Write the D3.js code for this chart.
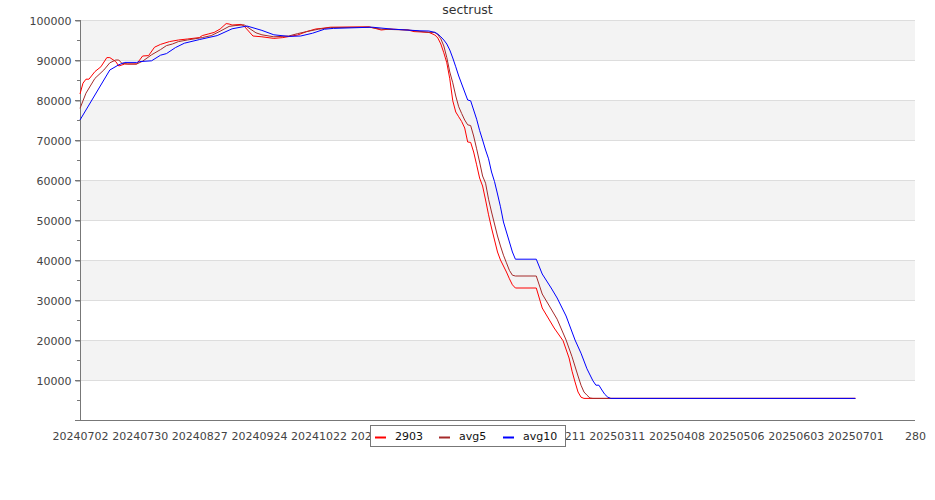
<!DOCTYPE html>
<html>
<head>
<meta charset="utf-8">
<script src="https://cdn.jsdelivr.net/npm/d3@7"></script>
<style>
  html, body { margin: 0; padding: 0; background: #fff; }
  svg { display: block; font-family: "DejaVu Sans", sans-serif; }
</style>
</head>
<body>
<svg id="chart" width="935" height="500"></svg>
<script>
// ---- data ----
const title = "sectrust";
const xTickIndex = [0, 20, 40, 60, 80, 100, 120, 140, 160, 180, 200, 220, 240, 260, 280];
const xTickLabels = ["20240702","20240730","20240827","20240924","20241022","20241119","20241217",
  "20250114","20250211","20250311","20250408","20250506","20250603","20250701","280"];
const yTicks = [10000, 20000, 30000, 40000, 50000, 60000, 70000, 80000, 90000, 100000];
const seriesNames = ["2903", "avg5", "avg10"];
const seriesColors = ["#ff0000", "#a52a2a", "#0000ff"];

// [trading-day index, value]
const s2903 = [[0,81500],[1,84200],[2,85200],[3,85200],[5,87100],[7,88300],[9,90600],[10,90600],
  [12,89600],[13,88500],[15,89000],[19,89000],[21,91000],[23,91100],[25,93200],[27,93900],
  [30,94600],[33,95000],[36,95250],[40,95600],[41,96100],[43,96500],[45,96900],[47,97750],
  [49,99100],[50,99000],[51,98750],[54,98900],[55,98500],[58,96000],[61,95800],[65,95400],
  [68,95600],[73,96250],[76,97100],[79,97750],[81,97900],[84,98200],[97,98300],[101,97500],
  [104,97750],[110,97500],[112,97100],[117,96900],[119,96250],[120,95500],[121,94000],
  [122,91800],[123,89300],[124,85300],[125,79800],[126,77000],[127,75800],[128,74600],
  [129,73000],[130,69500],[131,69400],[132,67000],[133,63800],[134,60500],[135,58500],
  [136,55000],[137,51300],[138,48000],[139,45000],[140,42000],[141,40000],[142,38500],
  [143,37000],[144,35300],[145,33800],[146,33000],[153,33000],[155,28000],[159,23000],
  [162,19800],[164,15500],[165,12200],[166,9500],[167,7000],[168,5700],[169,5400],[260,5400]];

const sAvg5 = [[0,77900],[2,81700],[5,85400],[8,87500],[10,89300],[12,90000],[13,90000],
  [14,89200],[16,89000],[19,89000],[21,89700],[24,91300],[27,92600],[29,93600],[31,94000],
  [33,94600],[36,95000],[41,95600],[44,96100],[47,97200],[50,98400],[52,98600],[55,98800],
  [57,97800],[59,96800],[61,96300],[65,95800],[70,96000],[73,96600],[76,97100],[80,97700],
  [84,98100],[97,98200],[101,97700],[110,97500],[117,96900],[119,96900],[120,96300],
  [121,95300],[122,93500],[123,90600],[124,87000],[125,84300],[126,81000],[127,78300],
  [128,76600],[129,75000],[130,73800],[131,73600],[132,71000],[133,67800],[134,64500],
  [135,61000],[136,59200],[137,55200],[138,52000],[139,49000],[140,46000],[141,43500],
  [142,41200],[143,39300],[144,37400],[145,36200],[146,36000],[153,36000],[155,31500],
  [157,29000],[160,25200],[163,20000],[165,15800],[167,11000],[168,8700],[169,7000],
  [170,6200],[171,5500],[172,5400],[260,5400]];

const sAvg10 = [[0,75000],[10,87500],[13,88800],[15,89400],[19,89400],[20,89600],[24,89800],
  [27,91200],[29,91600],[32,93100],[35,94200],[40,95100],[46,96100],[51,97800],[56,98500],
  [61,97400],[65,96300],[70,95900],[74,96000],[78,96700],[82,97700],[85,97900],[98,98200],
  [105,97700],[114,97300],[117,97250],[119,96900],[120,96500],[121,95800],[122,95000],
  [123,94000],[124,92500],[125,90500],[126,88300],[127,86000],[128,84000],[129,82000],
  [130,80000],[131,79800],[132,77500],[133,75200],[134,72400],[135,70000],[136,67500],
  [137,65300],[138,62000],[139,59600],[140,56500],[141,53300],[142,49500],[143,47000],
  [144,44500],[145,42000],[146,40200],[153,40200],[155,36500],[158,33000],[160,30500],
  [163,26000],[166,20000],[168,16700],[170,12800],[172,9800],[173,8700],[174,8700],
  [175,7500],[176,6400],[177,5700],[178,5400],[260,5400]];

const allSeries = [s2903, sAvg5, sAvg10];

// ---- chart ----
const svg = d3.select("#chart");
const mLeft = 80, mRight = 915, mTop = 20, mBottom = 420;
const x = d3.scaleLinear().domain([0, 280]).range([mLeft, mRight]);
const y = d3.scaleLinear().domain([0, 100000]).range([mBottom, mTop]);

// bands
const bandEdges = d3.range(0, 100001, 10000);
for (let i = 0; i < bandEdges.length - 1; i++) {
  if (i % 2 === 1) {
    svg.append("rect")
      .attr("x", mLeft).attr("width", mRight - mLeft)
      .attr("y", y(bandEdges[i + 1])).attr("height", y(bandEdges[i]) - y(bandEdges[i + 1]))
      .attr("fill", "#f3f3f3");
  }
}
// grid
svg.append("g").selectAll("line").data(yTicks).join("line")
  .attr("x1", mLeft).attr("x2", mRight)
  .attr("y1", d => Math.round(y(d)) + 0.5).attr("y2", d => Math.round(y(d)) + 0.5)
  .attr("stroke", "#dddddd").attr("stroke-width", 1);

// y axis
const yAxis = d3.axisLeft(y).tickValues(yTicks).tickSize(5).tickPadding(4)
  .tickFormat(d3.format("d"));
const gy = svg.append("g").attr("transform", `translate(${mLeft + 0.5},0.5)`).call(yAxis);
gy.select(".domain").remove();
gy.selectAll(".tick line").attr("stroke", "#777");
gy.selectAll(".tick text").attr("fill", "#444").attr("font-size", 11)
  .attr("font-family", "DejaVu Sans, sans-serif");
// minor ticks
const minor = d3.range(0, 100001, 5000);
svg.append("g").selectAll("line").data(minor).join("line")
  .attr("x1", d => (d % 10000 === 0 ? mLeft - 5 : mLeft - 3)).attr("x2", mLeft)
  .attr("y1", d => Math.round(y(d)) + 0.5).attr("y2", d => Math.round(y(d)) + 0.5)
  .attr("stroke", "#777");
// axis lines
svg.append("line").attr("x1", mLeft + 0.5).attr("x2", mLeft + 0.5)
  .attr("y1", mTop).attr("y2", mBottom + 0.5).attr("stroke", "#777");
svg.append("line").attr("x1", mLeft).attr("x2", mRight)
  .attr("y1", mBottom + 0.5).attr("y2", mBottom + 0.5).attr("stroke", "#777");

// x axis labels
const xAxis = d3.axisBottom(x).tickValues(xTickIndex).tickSize(0).tickPadding(12)
  .tickFormat((d, i) => xTickLabels[i]);
const gx = svg.append("g").attr("transform", `translate(0,${mBottom})`).call(xAxis);
gx.select(".domain").remove();
gx.selectAll(".tick text").attr("fill", "#444").attr("font-size", 11)
  .attr("font-family", "DejaVu Sans, sans-serif");

// lines
const line = d3.line().x(d => x(d[0])).y(d => y(d[1]));
allSeries.forEach((s, i) => {
  svg.append("path").datum(s)
    .attr("d", line)
    .attr("fill", "none")
    .attr("stroke", seriesColors[i])
    .attr("stroke-width", 1);
});

// title
svg.append("text").attr("x", 467.5).attr("y", 14)
  .attr("text-anchor", "middle").attr("font-size", 12.5).attr("fill", "#333")
  .text(title);

// legend
const lg = svg.append("g");
lg.append("rect").attr("x", 370.5).attr("y", 425.5).attr("width", 195).attr("height", 21)
  .attr("fill", "#fff").attr("stroke", "#777");
seriesNames.forEach((n, i) => {
  const ox = 375 + i * 64;
  lg.append("line").attr("x1", ox).attr("x2", ox + 11).attr("y1", 437.5).attr("y2", 437.5)
    .attr("stroke", seriesColors[i]).attr("stroke-width", 2);
  lg.append("text").attr("x", ox + 20).attr("y", 440).attr("font-size", 11)
    .attr("fill", "#111").text(n);
});
</script>
</body>
</html>
